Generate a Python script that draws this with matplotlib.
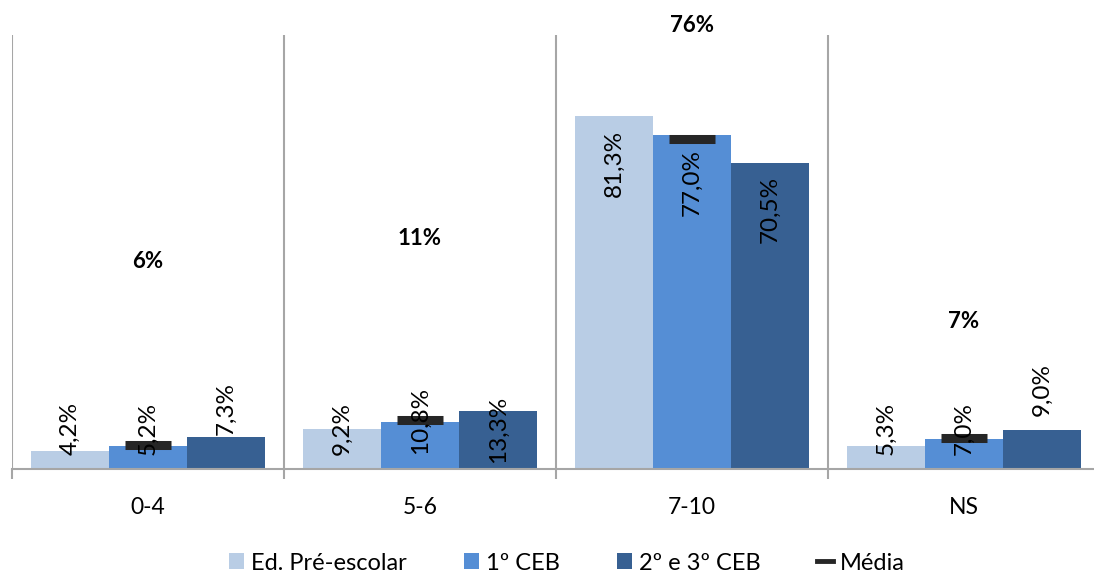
import matplotlib
matplotlib.use("Agg")
import matplotlib.pyplot as plt
from matplotlib.lines import Line2D
from matplotlib.patches import Patch
import numpy as np

plt.rcParams['font.family'] = ['Lato', 'DejaVu Sans']

categories = ["0-4", "5-6", "7-10", "NS"]
series_names = ["Ed. Pré-escolar", "1º CEB", "2º e 3º CEB"]
pre_escolar = [4.2, 9.2, 81.3, 5.3]
ceb1 = [5.2, 10.8, 77.0, 7.0]
ceb23 = [7.3, 13.3, 70.5, 9.0]
media = [5.5, 11.2, 76.0, 7.1]
media_labels = ["6%", "11%", "76%", "7%"]

# layout (label placement, in data units)
bar_label_y = [[9.4, 9.4, 14.0], [9.4, 11.1, 9.2], [70.5, 65.9, 59.9], [9.4, 9.4, 18.4]]
media_label_y = [47.7, 53.2, 102.3, 33.9]

colors = ["#B9CDE5", "#558ED5", "#376092"]
sep_color = "#A6A6A6"

fig = plt.figure(figsize=(10.94, 5.79), dpi=100)
ax = fig.add_axes([12/1094, 110/579, 1088/1094, 434/579])

w = 0.287
x = np.arange(len(categories))
all_series = [pre_escolar, ceb1, ceb23]
for j, (vals, c) in enumerate(zip(all_series, colors)):
    xs = x + (j - 1) * w
    ax.bar(xs, vals, width=w, color=c, edgecolor='none', zorder=2)
    for i, v in enumerate(vals):
        lbl = f"{v:.1f}%".replace(".", ",")
        ax.text(xs[i], bar_label_y[i][j], lbl, rotation=90, ha='center', va='center',
                fontsize=17.5, color='black', zorder=5)

ax.plot(x, media, linestyle='none', marker='_', ms=33, mew=6.5, color='#262626', zorder=4)
for i, lab in enumerate(media_labels):
    ax.text(x[i], media_label_y[i], lab, ha='center', va='center', fontsize=16,
            fontweight='bold', color='black', clip_on=False)

ax.set_xlim(-0.5, 3.5)
ax.set_ylim(0, 100)
for b in [-0.5, 0.5, 1.5, 2.5, 3.5]:
    ax.axvline(b, color=sep_color, lw=1.5, zorder=1)

for s in ['top', 'right', 'left']:
    ax.spines[s].set_visible(False)
ax.spines['bottom'].set_color(sep_color)
ax.spines['bottom'].set_linewidth(1.5)
ax.set_yticks([])
ax.set_xticks(x)
ax.set_xticklabels(categories, fontsize=16.5)
ax.tick_params(axis='x', which='major', length=0, pad=20)
ax.set_xticks([-0.5, 0.5, 1.5, 2.5, 3.5], minor=True)
ax.tick_params(axis='x', which='minor', length=7, width=1.5, color=sep_color)

handles = [Patch(facecolor=c, edgecolor='none') for c in colors]
handles.append(Line2D([0], [0], color='#262626', lw=3.5))
fig.legend(handles, series_names + ["Média"], loc='center', bbox_to_anchor=(0.518, 16/579),
           ncol=4, frameon=False, fontsize=17, handlelength=0.65, handleheight=0.65,
           handletextpad=0.3, columnspacing=2.4)

fig.savefig("out.png", dpi=100)
